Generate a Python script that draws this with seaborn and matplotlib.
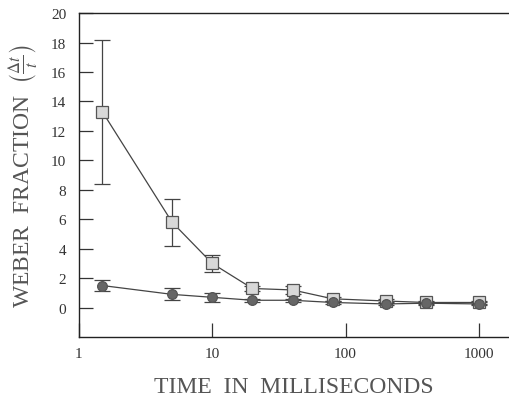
import numpy as np
import pandas as pd
import matplotlib
matplotlib.use("Agg")
import matplotlib.pyplot as plt
import seaborn as sns

# time in ms, weber fraction and half-length of error bar
times = [1.5, 5, 10, 20, 40, 80, 200, 400, 1000]
square_vals = [13.3, 5.8, 3.0, 1.3, 1.2, 0.6, 0.45, 0.35, 0.35]
square_err = [4.9, 1.6, 0.55, 0.2, 0.3, 0.15, 0.15, 0.1, 0.1]
circle_vals = [1.5, 0.9, 0.7, 0.5, 0.5, 0.35, 0.25, 0.3, 0.25]
circle_err = [0.35, 0.4, 0.3, 0.1, 0.1, 0.1, 0.1, 0.1, 0.1]

y_ticks = [0, 2, 4, 6, 8, 10, 12, 14, 16, 18, 20]
x_ticks = [1, 10, 100, 1000]

sq = pd.DataFrame({'time': times, 'weber': square_vals, 'err': square_err, 'cond': 'square'})
ci = pd.DataFrame({'time': times, 'weber': circle_vals, 'err': circle_err, 'cond': 'circle'})
data = pd.concat([sq, ci], ignore_index=True)

sns.set_style("ticks")
plt.rcParams['font.family'] = ['Liberation Serif', 'DejaVu Serif']
plt.rcParams['mathtext.fontset'] = 'stix'

fig = plt.figure(figsize=(5.09, 4.02), dpi=100)
ax = fig.add_axes([0.155, 0.159, 0.845, 0.806])

line_col = '#444444'
for cond, marker, face, size in [('square', 's', '#d8d8d8', 8), ('circle', 'o', '#666666', 7)]:
    d = data[data.cond == cond]
    ax.errorbar(d.time, d.weber, yerr=d.err, fmt='none', ecolor=line_col,
                elinewidth=0.9, capsize=6, capthick=0.9, zorder=2)
    sns.lineplot(data=d, x='time', y='weber', ax=ax, color=line_col, linewidth=0.9,
                 marker=marker, markersize=size, markerfacecolor=face,
                 markeredgecolor='#555555', markeredgewidth=0.9, zorder=3)

ax.set_xscale('log')
ax.set_xlim(1, 1680)
ax.set_ylim(-2, 20)
ax.set_xticks(x_ticks)
ax.set_xticklabels([str(t) for t in x_ticks])
ax.xaxis.set_minor_locator(matplotlib.ticker.NullLocator())
ax.set_yticks(y_ticks)
ax.set_yticklabels([str(t) for t in y_ticks])
ax.tick_params(direction='in', length=10, width=0.9, colors='#333333',
               labelsize=11, pad=7)
ax.tick_params(axis='y', pad=9)

for s in ['left', 'bottom', 'top']:
    ax.spines[s].set_color('#222222')
    ax.spines[s].set_linewidth(1.0)
ax.spines['right'].set_visible(False)

ax.set_xlabel('TIME  IN  MILLISECONDS', fontsize=17, color='#555555', labelpad=12)
ax.set_ylabel(r'WEBER  FRACTION  $\left(\frac{\Delta t}{t}\right)$', fontsize=17,
              color='#555555', labelpad=8)

fig.savefig('out.png', dpi=100)
